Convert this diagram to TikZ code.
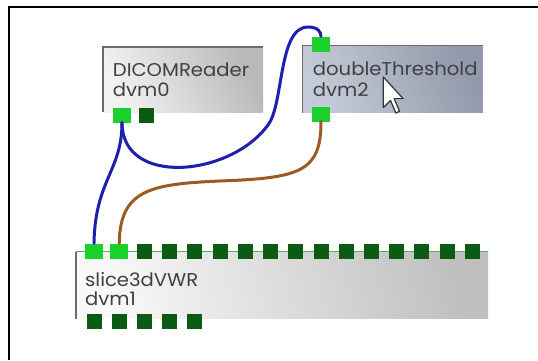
\documentclass[tikz,border=0pt]{standalone}
\usepackage{fontspec}
\setmainfont{Poppins}[FakeStretch=1.06]
\definecolor{wireblue}{HTML}{1E1EB0}
\definecolor{wirebrown}{HTML}{9A5A22}
\definecolor{portlit}{HTML}{1BD12B}
\definecolor{portdk}{HTML}{0B5B14}
\definecolor{txt}{HTML}{404040}
\definecolor{bevel}{HTML}{6A6A6A}
\tikzset{
 modbox/.style={draw=none, inner sep=0pt, anchor=north west},
 title/.style={anchor=base west, inner sep=0pt, text=txt, font=\fontsize{18.5}{20}\selectfont},
 plit/.style={fill=portlit, minimum width=18pt, minimum height=15pt, inner sep=0pt},
 pdark/.style={fill=portdk, minimum width=15pt, minimum height=15pt, inner sep=0pt},
 wire/.style={line width=3pt, line cap=round},
 bev/.style={draw=bevel, line width=1.5pt},
}
\begin{document}
\begin{tikzpicture}[x=1pt,y=-1pt]
\useasboundingbox (0,0) rectangle (538,360);
\fill[white] (0,0) rectangle (538,360);
\draw[line width=2pt] (9,360) -- (9,7) -- (538,7);

% DICOMReader
\node[modbox, minimum width=160pt, minimum height=65pt, left color=gray!10, right color=gray!55, shading angle=115] (dicom) at (103,47) {};
\draw[bev] (dicom.south west) -- (dicom.north west) -- (dicom.north east);
\node[title] (dicomt) at (112.7,76.7) {DICOMReader};
\node[title] (dicomid) at (112.7,96.7) {dvm0};
\node[plit] (dp1) at (122,115) {};
\node[pdark] (dp2) at (146.5,115.5) {};

% doubleThreshold
\node[modbox, minimum width=180pt, minimum height=66.6pt, left color={rgb,255:red,196;green,203;blue,216}, right color={rgb,255:red,145;green,153;blue,170}, shading angle=115] (dth) at (302.7,45.7) {};
\draw[bev] (dth.south west) -- (dth.north west) -- (dth.north east);
\node[title] (dtht) at (312.7,75) {doubleThreshold};
\node[title] (dthid) at (312.7,96.7) {dvm2};
\node[plit] (tp1) at (321,44) {};
\node[plit] (tp2) at (321,114) {};

% slice3dVWR
\node[modbox, minimum width=412pt, minimum height=66.6pt, left color=gray!5, right color=gray!50, shading angle=105] (slc) at (76,251.7) {};
\draw[bev] (slc.south west) -- (slc.north west);
\draw[green!40!gray, line width=1.2pt] (slc.north west) -- (slc.north east);
\node[title] (slct) at (85,286.7) {slice3dVWR};
\node[title] (slcid) at (85,305) {dvm1};
\foreach \i in {1,2} {\node[plit] (s\i) at ({94+25.23*(\i-1)},251) {};}
\foreach \i in {3,...,16} {\node[pdark] (s\i) at ({94+25.23*(\i-1)},251) {};}
\foreach \i in {1,...,5} {\node[pdark] (b\i) at ({94+25.23*(\i-1)},321.7) {};}

% wires
\draw[wire, wireblue] (dp1.south) .. controls +(0,48) and +(1,-63) .. (s1.north);
\draw[wire, wireblue] (dp1.south) .. controls +(0,64) and (230,177) .. (268,125) .. controls (284,104) and (278,27) .. (308,27) .. controls (318,27) and (321,32) .. (tp1.north);
\draw[wire, wirebrown] (tp2.south) .. controls (321,172) and (300,178) .. (220,181) .. controls (150,184) and (120,190) .. (s2.north);

% cursor
\draw[fill=white, draw=black!80, line width=1.2pt, line join=round] (383.3,77) coordinate (tip) -- ++(0,30.6) -- ++(7.2,-7.2) -- ++(5.4,12.6) -- ++(3.6,-1.8) -- ++(-5.4,-12.6) -- ++(9,0) -- cycle;
\end{tikzpicture}
\end{document}
